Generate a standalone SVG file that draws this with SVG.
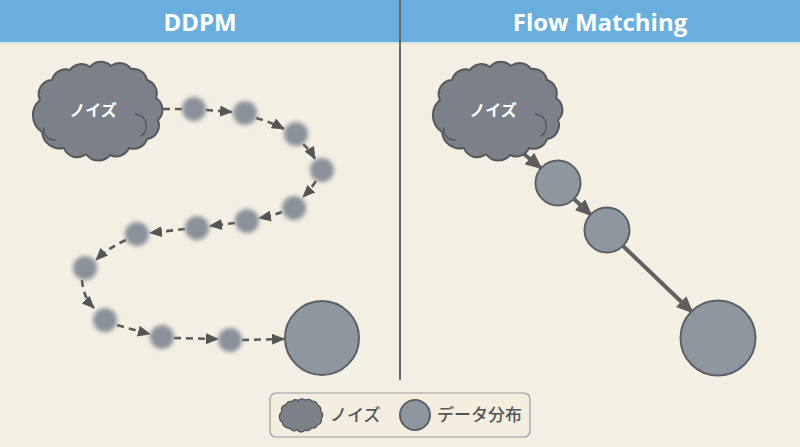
<svg xmlns="http://www.w3.org/2000/svg" xmlns:xlink="http://www.w3.org/1999/xlink" width="800" height="447" viewBox="0 0 800 447">
<style>
.title{font-family:"Open Sans","Noto Sans",sans-serif;font-weight:700;font-size:24px;fill:#ffffff;text-anchor:middle}
.cloudtxt{font-family:"Noto Sans CJK JP",sans-serif;font-weight:700;font-size:16px;fill:#ffffff;text-anchor:middle}
.legtxt{font-family:"Noto Sans CJK JP",sans-serif;font-weight:500;font-size:17px;fill:#555555}
.cloud{fill:#7c8189;stroke:#55595e;stroke-width:2;stroke-linejoin:round}
.curl{fill:none;stroke:#55595e;stroke-width:1.6;stroke-linecap:round}
.dot{fill:#8a919b;filter:url(#blur)}
.data{fill:#8e96a0;stroke:#5c6066;stroke-width:2}
.dash{fill:none;stroke:#5a5a5a;stroke-width:2.6;stroke-dasharray:7 5}
.solid{fill:none;stroke:#626262;stroke-width:4}
</style>
<defs>
<filter id="blur" x="-50%" y="-50%" width="200%" height="200%"><feGaussianBlur stdDeviation="2.2"/></filter>
<marker id="ah" markerUnits="userSpaceOnUse" markerWidth="13" markerHeight="11" refX="12" refY="5.5" orient="auto"><path d="M0,0 L13,5.5 L0,11 z" fill="#555555"/></marker>
<marker id="ahs" markerUnits="userSpaceOnUse" markerWidth="17" markerHeight="15" refX="15" refY="7.5" orient="auto"><path d="M0,0 L17,7.5 L0,15 z" fill="#5e5e5e"/></marker>
<path id="cloudshape" d="M10,70 A20,20 0 0 1 8,38 A14,14 0 0 1 20,18 A14,14 0 0 1 38,8 A14,14 0 0 1 58,5 A14,14 0 0 1 79,4 A14,14 0 0 1 99,7 A14,14 0 0 1 115,18 A14,14 0 0 1 124,36 A14,14 0 0 1 126,58 A14,14 0 0 1 115,77 A14,14 0 0 1 97,86 A14,14 0 0 1 78,93 A15,15 0 0 1 54,92 A14,14 0 0 1 32,86 A18,18 0 0 1 10,70 Z"/>
</defs>
<rect x="0" y="0" width="800" height="447" fill="#f3efe2"/>
<rect x="0" y="0" width="800" height="42" fill="#6aaedd"/>
<rect x="0" y="42" width="800" height="2" fill="#d8e6ea"/>
<text class="title" x="200" y="31">DDPM</text>
<text class="title" x="600" y="31">Flow Matching</text>
<line x1="400" y1="0" x2="400" y2="380" stroke="#666666" stroke-width="2"/>

<g id="connectors">
<line class="dash" x1="163" y1="109" x2="190" y2="109"/>
<line class="dash" x1="206" y1="110" x2="232" y2="112" marker-end="url(#ah)"/>
<path class="dash" d="M256,118 Q271,122 284,129" marker-end="url(#ah)"/>
<path class="dash" d="M303,144 Q310,150 315,159" marker-end="url(#ah)"/>
<path class="dash" d="M316,181 Q310,190 303,197" marker-end="url(#ah)"/>
<path class="dash" d="M282,212 Q271,216 259,218" marker-end="url(#ah)"/>
<line class="dash" x1="235" y1="223" x2="210" y2="226" marker-end="url(#ah)"/>
<line class="dash" x1="185" y1="229" x2="150" y2="233" marker-end="url(#ah)"/>
<path class="dash" d="M126,240 Q108,248 96,260" marker-end="url(#ah)"/>
<path class="dash" d="M82,280 Q83,297 94,308" marker-end="url(#ah)"/>
<path class="dash" d="M117,325 Q134,330 150,334" marker-end="url(#ah)"/>
<line class="dash" x1="174" y1="338" x2="218" y2="339" marker-end="url(#ah)"/>
<line class="dash" x1="242" y1="340" x2="284" y2="339" marker-end="url(#ah)"/>
<line class="solid" x1="519" y1="150" x2="541" y2="168" marker-end="url(#ahs)"/>
<line class="solid" x1="574" y1="199" x2="591" y2="215" marker-end="url(#ahs)"/>
<line class="solid" x1="623" y1="246" x2="692" y2="312" marker-end="url(#ahs)"/>
</g>

<g id="ddpm-noise">
<use href="#cloudshape" class="cloud" transform="translate(32,62)"/>
<path class="curl" d="M135,114 A12,12 0 0 1 141,136"/>
<path class="curl" d="M44,128 A10,10 0 0 0 55,140"/>
<text class="cloudtxt" x="93" y="116">ノイズ</text>
</g>
<g id="ddpm-steps">
<circle class="dot" cx="194" cy="109" r="12"/>
<circle class="dot" cx="245" cy="113" r="12"/>
<circle class="dot" cx="296" cy="134" r="12"/>
<circle class="dot" cx="322" cy="170" r="12"/>
<circle class="dot" cx="294" cy="208" r="12"/>
<circle class="dot" cx="247" cy="221" r="12"/>
<circle class="dot" cx="197" cy="228" r="12"/>
<circle class="dot" cx="137" cy="234" r="12"/>
<circle class="dot" cx="85" cy="268" r="12"/>
<circle class="dot" cx="105" cy="320" r="12"/>
<circle class="dot" cx="162" cy="337" r="12"/>
<circle class="dot" cx="230" cy="340" r="12"/>
</g>
<g id="ddpm-data">
<circle class="data" cx="322" cy="338" r="37"/>
</g>

<g id="fm-noise">
<use href="#cloudshape" class="cloud" transform="translate(432,62)"/>
<path class="curl" d="M535,114 A12,12 0 0 1 541,136"/>
<path class="curl" d="M444,128 A10,10 0 0 0 455,140"/>
<text class="cloudtxt" x="493" y="116">ノイズ</text>
</g>
<g id="fm-step1"><circle class="data" cx="558" cy="183" r="22.5"/></g>
<g id="fm-step2"><circle class="data" cx="607" cy="230" r="22.5"/></g>
<g id="fm-data"><circle class="data" cx="718" cy="338" r="37.5"/></g>

<g id="legend">
<rect x="270" y="393" width="260" height="44" rx="6" fill="#f3eee0" stroke="#9a9a9a" stroke-width="1.2"/>
<use href="#cloudshape" class="cloud" transform="translate(279,399) scale(0.335)" style="stroke-width:4"/>
<text class="legtxt" x="330" y="421">ノイズ</text>
<circle class="data" cx="415" cy="415" r="15"/>
<text class="legtxt" x="437" y="421">データ分布</text>
</g>
</svg>
